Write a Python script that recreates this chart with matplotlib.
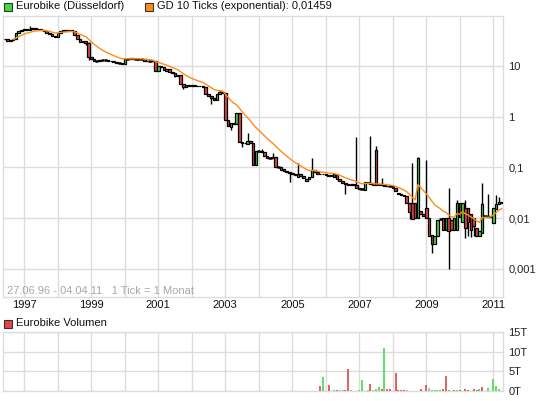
import matplotlib
matplotlib.use("Agg")
import matplotlib.pyplot as plt
import numpy as np
import pandas as pd
from matplotlib.patches import Rectangle

plt.rcParams['font.family'] = ['Liberation Sans', 'DejaVu Sans']

# ---------------- data (monthly candles, Jun 1996 .. Apr 2011) ----------------
start_year = 1996
start_month = 6

opens = [35, 34, 31, 33, 35, 45, 50, 52, 54, 52,
         55, 56, 55, 54, 53, 50, 46, 44, 39, 38,
         46, 50, 51, 50, 52, 50, 42, 35, 30, 31,
         29, 15, 14, 12.5, 12.5, 13, 13, 13, 12.8, 12.5,
         12, 11.5, 11.5, 11.2, 14, 14, 14.2, 14, 14, 14,
         14, 12.5, 12.7, 12.7, 12.5, 8, 10, 9.5, 8, 8.6,
         7.5, 7.2, 6.5, 6.8, 4.4, 3.8, 4.2, 4.1, 4.2, 4.0,
         4.1, 4.0, 3.8, 2.8, 2.6, 2.3, 2.1, 2.8, 3.1, 3.0,
         0.85, 0.62, 0.75, 0.72, 1.2, 0.32, 0.3, 0.29, 0.33, 0.3,
         0.11, 0.21, 0.21, 0.2, 0.17, 0.15, 0.15, 0.16, 0.1, 0.1,
         0.095, 0.085, 0.08, 0.078, 0.075, 0.065, 0.075, 0.068, 0.055, 0.06,
         0.065, 0.09, 0.08, 0.075, 0.073, 0.075, 0.072, 0.068, 0.065, 0.075,
         0.06, 0.055, 0.05, 0.047, 0.045, 0.046, 0.045, 0.04, 0.038, 0.035,
         0.052, 0.05, 0.05, 0.22, 0.045, 0.046, 0.045, 0.043, 0.042, 0.042,
         0.04, 0.031, 0.03, 0.028, 0.027, 0.02, 0.02, 0.02, 0.01, 0.014,
         0.012, 0.016, 0.01, 0.0046, 0.003, 0.0045, 0.0095, 0.01, 0.0057, 0.01,
         0.009, 0.0058, 0.0058, 0.02, 0.0085, 0.016, 0.016, 0.012, 0.01, 0.0063,
         0.0045, 0.005, 0.011, 0.011, 0.0105, 0.008, 0.015, 0.019, 0.021]

closes = [34, 31, 33, 35, 45, 50, 52, 54, 52, 55,
          56, 55, 54, 53, 50, 46, 44, 39, 38, 46,
          50, 51, 50, 52, 50, 42, 35, 30, 31, 29,
          15, 14, 12.5, 12.5, 13, 13, 13, 12.8, 12.5, 12,
          11.5, 11.5, 11.2, 14, 14, 14.2, 14, 14, 14, 14,
          12.5, 12.7, 12.7, 12.5, 8, 10, 9.5, 8.5, 8.6, 7.5,
          7.2, 6.5, 6.8, 4.4, 3.8, 4.2, 4.1, 4.2, 4.0, 4.1,
          4.0, 3.8, 2.8, 2.6, 2.3, 2.1, 2.8, 3.1, 3.0, 0.85,
          0.65, 0.75, 0.72, 1.2, 0.32, 0.3, 0.31, 0.33, 0.3, 0.11,
          0.21, 0.21, 0.2, 0.17, 0.15, 0.15, 0.16, 0.1, 0.1, 0.09,
          0.085, 0.08, 0.078, 0.075, 0.07, 0.075, 0.068, 0.062, 0.06, 0.065,
          0.09, 0.08, 0.075, 0.073, 0.075, 0.072, 0.068, 0.07, 0.075, 0.06,
          0.055, 0.05, 0.047, 0.045, 0.046, 0.045, 0.04, 0.038, 0.038, 0.052,
          0.05, 0.048, 0.045, 0.045, 0.046, 0.045, 0.043, 0.042, 0.042, 0.04,
          0.034, 0.03, 0.028, 0.027, 0.02, 0.013, 0.0095, 0.01, 0.15, 0.012,
          0.011, 0.01, 0.0045, 0.003, 0.0045, 0.0093, 0.0095, 0.0057, 0.01, 0.0056,
          0.0058, 0.01, 0.02, 0.0105, 0.02, 0.0064, 0.0085, 0.0058, 0.0068, 0.0045,
          0.0055, 0.019, 0.011, 0.0105, 0.011, 0.016, 0.019, 0.021, 0.02]

# wick extremes beyond the body (month index -> value)
wick_high = {9: 63, 30: 30, 77: 3.4, 87: 0.48, 92: 0.23, 96: 0.19, 105: 0.12,
             110: 0.15, 126: 0.4, 131: 0.42, 133: 0.26, 135: 0.062, 146: 0.12,
             148: 0.16, 151: 0.14, 159: 0.04, 162: 0.023, 165: 0.023, 171: 0.05,
             173: 0.03, 176: 0.028, 177: 0.026}
wick_low = {29: 26, 30: 13.5, 61: 6, 64: 3.5, 74: 1.8, 81: 0.55, 85: 0.25,
            102: 0.052, 122: 0.03, 145: 0.0095, 153: 0.002, 159: 0.001,
            165: 0.004, 166: 0.0045, 167: 0.0043, 168: 0.0045}

# volume (thousands) by month index
vol_month = [113, 114, 116, 118, 119, 120, 121, 122, 123, 124, 125, 127, 128, 130,
             131, 132, 133, 134, 135, 136, 137, 138, 140, 141, 142, 143, 144, 146,
             149, 151, 152, 153, 154, 155, 156, 157, 158, 159, 161, 162, 163, 165,
             166, 168, 169, 170, 171, 173, 175, 176, 177]
vol_values = [1.3, 3.5, 1.55, 0.2, 0.3, 0.3, 0.3, 0.2, 5.7, 0.15, 0.1, 0.3, 2.8, 0.15,
              1.8, 0.15, 0.4, 0.95, 0.4, 10.9, 0.5, 0.4, 4.6, 0.2, 0.2, 0.2, 0.3, 0.1,
              0.4, 1.6, 0.8, 0.2, 0.2, 0.2, 0.2, 0.6, 3.9, 0.2, 0.2, 0.2, 0.2, 0.4,
              0.2, 0.4, 0.2, 0.4, 0.9, 0.8, 3.1, 1.3, 0.5]
vol_dir = ['r', 'g', 'r', 'g', 'r', 'n', 'n', 'r', 'r', 'n', 'r', 'g', 'g', 'n',
           'r', 'n', 'g', 'g', 'r', 'g', 'r', 'r', 'r', 'r', 'r', 'r', 'n', 'r',
           'r', 'r', 'n', 'g', 'g', 'g', 'g', 'r', 'r', 'g', 'r', 'g', 'r', 'r',
           'r', 'r', 'r', 'g', 'r', 'g', 'g', 'g', 'g']

year_ticks = list(range(1997, 2012))
year_labels = [str(y) if (y - 1997) % 2 == 0 else '' for y in year_ticks]
price_ticks = [10, 1, 0.1, 0.01, 0.001]
price_labels = ['10', '1', '0,1', '0,01', '0,001']
vol_ticks = [0, 5, 10, 15]
vol_labels = ['0T', '5T', '10T', '15T']

# ---------------- figure ----------------
W, H = 545, 401
fig = plt.figure(figsize=(W / 100, H / 100), dpi=100)

def fig_rect(l, t, r, b):
    return [l / W, 1 - b / H, (r - l) / W, (b - t) / H]

ax = fig.add_axes(fig_rect(3, 16, 503, 297))
axv = fig.add_axes(fig_rect(3, 332, 503, 391))

GREEN = '#3ddc3d'
RED = '#e84444'
GRID = '#dcdcdc'
XMIN, XMAX = 1996.364, 2011.29

n = len(closes)
t = np.array([start_year + (start_month - 1) / 12 + i / 12 for i in range(n)])
o = np.array(opens, float)
c = np.array(closes, float)
hi = np.maximum(o, c)
lo = np.minimum(o, c)
for k, v in wick_high.items():
    hi[k] = max(hi[k], v)
for k, v in wick_low.items():
    lo[k] = min(lo[k], v)

for a in (ax, axv):
    a.set_xlim(XMIN, XMAX)
    a.set_xticks(year_ticks)
    a.grid(True, axis='x', color=GRID, lw=1)
    a.grid(True, axis='y', color=GRID, lw=1)
    a.set_axisbelow(True)
    for s in a.spines.values():
        s.set_color(GRID)
        s.set_linewidth(1)
    a.yaxis.tick_right()
    a.tick_params(axis='y', length=0, pad=4, labelsize=8, colors='#222222')
    a.tick_params(axis='x', length=0, pad=2, labelsize=8, colors='#111111')

ax.set_yscale('log')
ax.set_ylim(2.75e-4, 98)
ax.set_yticks(price_ticks)
ax.set_yticklabels(price_labels)
ax.minorticks_off()
ax.set_xticks(year_ticks)
ax.set_xticklabels(year_labels)

# candles
bw = 0.075
ax.vlines(t, lo, hi, color='black', lw=1, zorder=2)
for i in range(n):
    if abs(c[i] - o[i]) / max(o[i], c[i]) < 0.012:
        ax.hlines(c[i], t[i] - bw / 2 - 0.01, t[i] + bw / 2 + 0.01, color='black', lw=1.8, zorder=3)
    else:
        col = GREEN if c[i] > o[i] else RED
        ax.add_patch(Rectangle((t[i] - bw / 2, min(o[i], c[i])), bw, abs(c[i] - o[i]),
                               facecolor=col, edgecolor='black', lw=0.9, zorder=3))

# EMA 10 ticks
ema = pd.Series(c).ewm(span=10, adjust=False).mean().values
ax.plot(t[3:], ema[3:], color='#ff8c1a', lw=1.0, zorder=4)

ax.text(0.008, 0.004, '27.06.96 - 04.04.11   1 Tick = 1 Monat', transform=ax.transAxes,
        fontsize=8, color='#a8a8a8', ha='left', va='bottom')

# volume
axv.set_ylim(0, 15)
axv.set_yticks(vol_ticks)
axv.set_yticklabels(vol_labels)
axv.set_xticklabels([])
cmap = {'g': '#66dd66', 'r': '#e06666', 'n': '#bbbbbb'}
vt = np.array([t[k] for k in vol_month])
axv.bar(vt, vol_values, width=0.06, color=[cmap[d] for d in vol_dir], zorder=3)

# legends
def legend_box(x, y, col, label):
    fig.patches.append(Rectangle((x / W, 1 - (y + 4.5) / H), 8 / W, 8 / H,
                                 transform=fig.transFigure, facecolor=col,
                                 edgecolor='#333333', lw=0.8))
    fig.text((x + 12) / W, 1 - y / H, label, fontsize=8, color='#111111',
             ha='left', va='center')

legend_box(4, 6, GREEN, 'Eurobike (Düsseldorf)')
legend_box(145, 6, '#ff8c1a', 'GD 10 Ticks (exponential): 0,01459')
legend_box(4, 323, RED, 'Eurobike Volumen')

fig.savefig('out.png', dpi=100)
